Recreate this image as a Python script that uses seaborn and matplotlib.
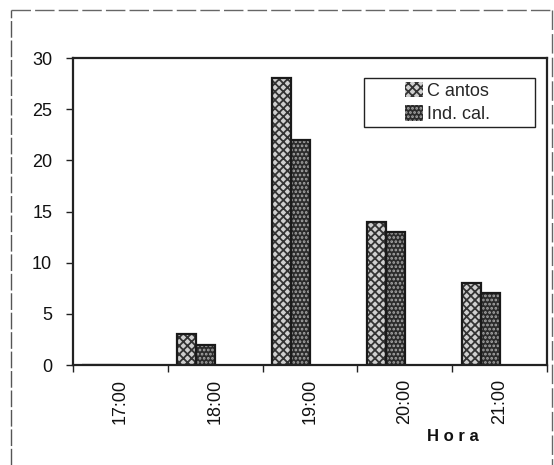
import matplotlib
matplotlib.use("Agg")
import matplotlib.pyplot as plt
import matplotlib.patches as mpatches
from matplotlib.lines import Line2D
import seaborn as sns
import pandas as pd
import numpy as np

horas = ["17:00", "18:00", "19:00", "20:00", "21:00"]
cantos = [0, 3, 28, 14, 8]
ind_cal = [0, 2, 22, 13, 7]
series = ["Cantos", "Ind.cal."]
legend_labels = ["C antos", "Ind. cal."]
yticks = [0, 5, 10, 15, 20, 25, 30]

df = pd.DataFrame({
    "Hora": horas * 2,
    "Valor": cantos + ind_cal,
    "Serie": [series[0]] * len(horas) + [series[1]] * len(horas),
})
hue_order = series + ["_a", "_b"]

sns.set_theme(style="white")
plt.rcParams["font.family"] = ["Liberation Sans", "DejaVu Sans"]
plt.rcParams["hatch.linewidth"] = 1.3

W, H = 554, 465
fig = plt.figure(figsize=(W/100, H/100), dpi=100)
ax = fig.add_axes([73/W, 1-365/H, (547-73)/W, (365-58)/H])

c_face = {"Cantos": "#cfcfcf", "Ind.cal.": "#2b2b2b"}
c_hatch = {"Cantos": "#333333", "Ind.cal.": "#a8a8a8"}
c_pat = {"Cantos": "xxxx", "Ind.cal.": "...."}

pal = {**c_face, "_a": "w", "_b": "w"}
sns.barplot(data=df, x="Hora", y="Valor", hue="Serie", hue_order=hue_order,
            order=horas, palette=pal, width=0.8, dodge=True, legend=False,
            linewidth=0, ax=ax)
for cont, lab in zip(ax.containers, series):
    for p in cont.patches:
        p.set_hatch(c_pat[lab])
        p.set_edgecolor(c_hatch[lab])
        p.set_linewidth(0)
sns.barplot(data=df, x="Hora", y="Valor", hue="Serie", hue_order=hue_order,
            order=horas, width=0.8, dodge=True, legend=False, fill=False,
            palette={k: "#1a1a1a" for k in hue_order}, linewidth=1.6, ax=ax)

ax.set_xlim(-0.5, 4.5)
ax.set_ylim(0, 30)
ax.set_yticks(yticks)
ax.set_yticklabels([str(v) for v in yticks], fontsize=13, color="#111")
ax.set_xticks(range(len(horas)))
ax.set_xticklabels(horas, rotation=90, fontsize=13, color="#111")
ax.set_xticks(np.arange(-0.5, len(horas), 1.0), minor=True)
ax.tick_params(axis="x", which="major", length=0, pad=10)
ax.tick_params(axis="x", which="minor", length=5, width=1, color="#222", direction="out", bottom=True)
ax.tick_params(axis="y", length=5, width=1, color="#222", direction="out", left=True, pad=10)
ax.set_xlabel("")
ax.set_ylabel("")
for s in ax.spines.values():
    s.set_visible(True)
    s.set_color("#222222")
    s.set_linewidth(1.6)

# legend box
fig.add_artist(mpatches.Rectangle((364/W, 1-127/H), (535-364)/W, (127-78)/H,
                                  transform=fig.transFigure, fill=True, facecolor="white",
                                  edgecolor="#222", lw=1.0, zorder=4))
handles = [mpatches.Patch(facecolor=c_face[s], edgecolor=c_hatch[s], hatch=c_pat[s], linewidth=0)
           for s in series]
leg = fig.legend(handles, legend_labels, loc="upper left",
                 bbox_to_anchor=(403/W, 1-80/H), fontsize=13,
                 frameon=False, borderpad=0.1, labelspacing=0.3,
                 handlelength=1.0, handleheight=0.95, handletextpad=0.25,
                 borderaxespad=0)
leg.set_zorder(5)

fig.text(453/W, 1-436/H, "H o r a", fontsize=12, fontweight="bold",
         ha="center", va="center", color="#111")

# outer scan frame
fig.add_artist(Line2D([11/W, 11/W], [0, 1-10/H], transform=fig.transFigure,
                      color="#555", lw=1, ls=(0, (12, 2))))
fig.add_artist(Line2D([11/W, 552/W], [1-10/H, 1-10/H], transform=fig.transFigure,
                      color="#666", lw=1, ls=(0, (14, 3))))
fig.add_artist(Line2D([552/W, 552/W], [1-10/H, 0], transform=fig.transFigure,
                      color="#666", lw=1, ls=(0, (14, 3))))

fig.savefig("out.png", dpi=100)
